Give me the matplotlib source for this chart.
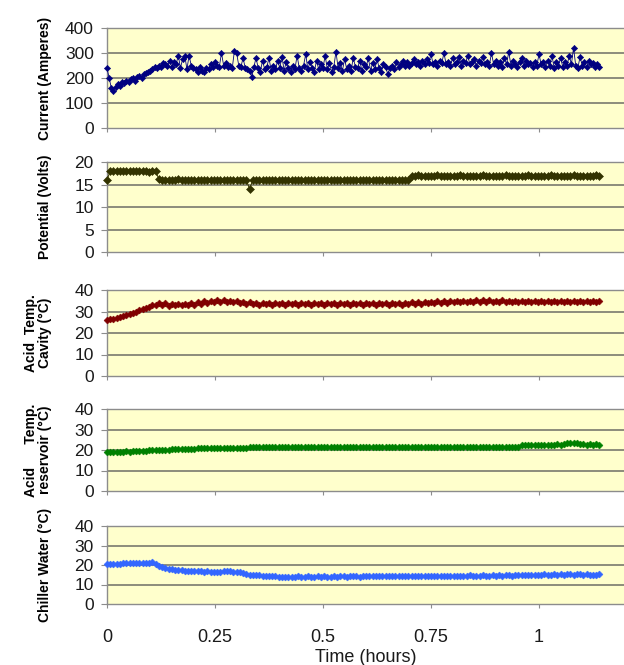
import numpy as np
import matplotlib
matplotlib.use("Agg")
import matplotlib.pyplot as plt

plt.rcParams['font.family'] = ['Liberation Sans', 'DejaVu Sans']

# ---------------- data ----------------
# logger sampling intervals (hours)
current_interval_h = 0.005
sample_interval_h = 0.0075

current_A = [
    240, 200, 160, 150, 165, 175, 170, 185, 180, 190,
    185, 195, 200, 190, 205, 210, 200, 215, 220, 225,
    230, 235, 245, 240, 250, 245, 260, 255, 250, 270,
    245, 265, 255, 290, 240, 275, 290, 235, 290, 250,
    240, 235, 225, 245, 230, 225, 240, 235, 255, 245,
    265, 250, 245, 300, 250, 260, 245, 250, 240, 310,
    300, 250, 245, 280, 240, 235, 230, 205, 245, 280,
    240, 225, 270, 235, 245, 280, 230, 250, 235, 270,
    240, 285, 230, 265, 240, 225, 250, 235, 290, 240,
    230, 250, 295, 235, 265, 240, 225, 270, 235, 255,
    240, 290, 235, 260, 225, 245, 305, 240, 260, 230,
    275, 235, 250, 230, 280, 245, 240, 270, 230, 255,
    245, 280, 230, 260, 235, 275, 240, 225, 255, 245,
    215, 240, 250, 235, 265, 245, 255, 270, 250, 265,
    250, 260, 275, 255, 265, 250, 270, 255, 275, 260,
    295, 255, 265, 250, 270, 260, 300, 255, 265, 250,
    280, 255, 265, 285, 250, 270, 260, 290, 255, 265,
    275, 250, 270, 260, 285, 255, 265, 250, 300, 255,
    270, 250, 265, 245, 280, 255, 305, 250, 270, 255,
    245, 265, 280, 250, 270, 255, 260, 245, 265, 250,
    295, 255, 265, 245, 270, 250, 290, 240, 265, 250,
    280, 245, 265, 250, 290, 255, 320, 250, 240, 285,
    250, 265, 245, 270, 255, 260, 245, 255, 245,
]

potential_V = [
    16.0, 18.0, 18.1, 18.0, 17.9, 18.0, 18.0, 18.1, 18.0, 17.9,
    18.0, 18.1, 17.9, 17.8, 17.9, 18.0, 16.2, 15.9, 16.0, 16.1,
    15.9, 16.0, 16.2, 16.0, 16.0, 15.9, 16.0, 16.1, 16.0, 15.9,
    16.0, 16.0, 16.1, 16.0, 15.9, 16.0, 16.0, 16.1, 16.0, 15.9,
    16.0, 16.0, 16.1, 16.0, 14.0, 16.0, 16.0, 16.1, 16.0, 15.9,
    16.0, 16.0, 16.0, 16.1, 16.0, 16.0, 15.9, 16.0, 16.0, 16.1,
    16.0, 16.0, 16.0, 15.9, 16.0, 16.0, 16.1, 16.0, 16.0, 16.0,
    15.9, 16.0, 16.0, 16.1, 16.0, 16.0, 16.0, 15.9, 16.0, 16.0,
    16.1, 16.0, 16.0, 16.0, 15.9, 16.0, 16.0, 16.1, 16.0, 16.0,
    16.0, 15.9, 16.0, 16.0, 17.0, 17.0, 17.1, 17.0, 17.0, 16.9,
    17.0, 17.0, 17.1, 17.0, 17.0, 17.0, 16.9, 17.0, 17.0, 17.1,
    17.0, 17.0, 17.0, 16.9, 17.0, 17.0, 17.1, 17.0, 17.0, 17.0,
    16.9, 17.0, 17.0, 17.1, 17.0, 17.0, 17.0, 16.9, 17.0, 17.0,
    17.1, 17.0, 17.0, 17.0, 16.9, 17.0, 17.0, 17.1, 17.0, 17.0,
    17.0, 16.9, 17.0, 17.0, 17.1, 17.0, 17.0, 16.9, 17.0, 17.0,
    17.0, 17.1, 17.0,
]

acid_cavity_C = [
    26.0, 26.5, 26.3, 27.0, 27.5, 28.0, 28.3, 29.0, 29.5, 30.0,
    30.5, 31.0, 31.5, 32.2, 32.8, 33.0, 33.8, 32.8, 33.8, 32.7,
    33.6, 32.8, 33.7, 32.9, 33.6, 33.0, 33.8, 33.2, 34.2, 33.5,
    34.8, 34.0, 35.0, 34.2, 35.5, 34.5, 35.2, 34.3, 35.0, 34.2,
    34.8, 34.0, 34.5, 33.5, 34.2, 33.3, 34.0, 33.2, 34.0, 33.3,
    34.1, 33.2, 34.0, 33.3, 34.0, 33.2, 34.1, 33.3, 34.0, 33.2,
    34.0, 33.3, 34.1, 33.2, 34.0, 33.3, 34.0, 33.2, 34.1, 33.3,
    34.0, 33.2, 34.0, 33.3, 34.1, 33.2, 34.0, 33.3, 34.0, 33.2,
    34.1, 33.3, 34.0, 33.2, 34.0, 33.3, 34.1, 33.2, 34.0, 33.3,
    34.0, 33.2, 34.1, 33.4, 34.2, 33.5, 34.3, 33.6, 34.5, 33.8,
    34.6, 33.9, 34.8, 34.0, 34.9, 34.1, 35.0, 34.2, 35.1, 34.3,
    35.0, 34.2, 35.1, 34.3, 35.2, 34.4, 35.3, 34.5, 35.2, 34.4,
    35.1, 34.3, 35.2, 34.4, 35.1, 34.3, 35.0, 34.2, 35.1, 34.3,
    35.0, 34.2, 35.1, 34.3, 35.0, 34.2, 35.1, 34.3, 35.0, 34.2,
    35.1, 34.3, 35.0, 34.2, 35.1, 34.3, 35.0, 34.2, 35.1, 34.3,
    35.0, 34.4, 35.0,
]

acid_reservoir_C = [
    19.0, 18.8, 19.1, 19.0, 19.2, 19.1, 19.3, 19.2, 19.4, 19.5,
    19.5, 19.6, 19.7, 19.8, 19.8, 19.9, 20.0, 20.1, 20.1, 20.2,
    20.3, 20.4, 20.4, 20.5, 20.6, 20.6, 20.7, 20.7, 20.8, 20.8,
    20.9, 20.9, 20.9, 21.0, 21.0, 21.0, 21.0, 21.1, 21.0, 21.0,
    21.1, 21.0, 21.1, 21.0, 21.5, 21.4, 21.6, 21.5, 21.4, 21.5,
    21.4, 21.5, 21.4, 21.5, 21.4, 21.3, 21.4, 21.3, 21.4, 21.3,
    21.4, 21.3, 21.4, 21.3, 21.4, 21.3, 21.4, 21.4, 21.3, 21.4,
    21.3, 21.4, 21.5, 21.4, 21.5, 21.4, 21.5, 21.4, 21.5, 21.4,
    21.5, 21.4, 21.5, 21.5, 21.4, 21.5, 21.5, 21.4, 21.5, 21.5,
    21.6, 21.5, 21.5, 21.6, 21.5, 21.5, 21.6, 21.5, 21.6, 21.5,
    21.6, 21.5, 21.6, 21.5, 21.6, 21.5, 21.6, 21.5, 21.6, 21.5,
    21.6, 21.5, 21.6, 21.5, 21.6, 21.5, 21.6, 21.5, 21.6, 21.5,
    21.6, 21.5, 21.6, 21.5, 21.6, 21.5, 21.6, 21.6, 22.5, 22.6,
    22.5, 22.6, 22.5, 22.6, 22.5, 22.6, 22.5, 22.6, 22.5, 22.7,
    22.6, 22.8, 23.2, 23.4, 23.5, 23.3, 22.9, 22.7, 22.6, 22.7,
    22.6, 22.7, 22.6,
]

chiller_water_C = [
    20.5, 20.4, 20.6, 20.5, 20.7, 20.8, 20.9, 21.0, 20.9, 21.0,
    21.0, 21.1, 21.0, 21.2, 21.6, 20.6, 19.6, 19.0, 18.6, 18.2,
    17.9, 17.6, 17.4, 17.3, 17.1, 17.0, 16.9, 16.9, 16.8, 16.7,
    16.6, 16.7, 16.5, 16.4, 16.3, 16.6, 16.9, 17.0, 16.8, 16.6,
    16.5, 16.2, 15.8, 15.4, 15.1, 15.0, 14.8, 14.7, 14.6, 14.5,
    14.4, 14.3, 14.2, 14.1, 14.0, 14.1, 14.0, 14.1, 14.0, 14.2,
    14.1, 14.0, 14.2, 14.1, 14.0, 14.2, 14.1, 14.2, 14.0, 14.1,
    14.2, 14.1, 14.3, 14.2, 14.1, 14.2, 14.3, 14.2, 14.1, 14.3,
    14.2, 14.3, 14.2, 14.4, 14.3, 14.2, 14.3, 14.4, 14.3, 14.2,
    14.4, 14.3, 14.5, 14.4, 14.3, 14.4, 14.5, 14.3, 14.4, 14.5,
    14.4, 14.5, 14.3, 14.4, 14.6, 14.5, 14.4, 14.5, 14.6, 14.5,
    14.6, 14.5, 14.7, 14.6, 14.5, 14.6, 14.7, 14.6, 14.5, 14.7,
    14.6, 14.7, 14.6, 14.8, 14.7, 14.6, 14.7, 14.8, 14.7, 14.9,
    15.1, 15.0, 15.1, 15.0, 15.1, 15.2, 15.0, 15.1, 15.2, 15.1,
    15.2, 15.1, 15.3, 15.2, 15.1, 15.2, 15.3, 15.1, 15.2, 15.1,
    15.0, 15.1, 15.2,
]

current_time_h = np.arange(len(current_A)) * current_interval_h
time_h = np.arange(len(potential_V)) * sample_interval_h

x_ticks = [0, 0.25, 0.5, 0.75, 1]
x_tick_labels = ["0", "0.25", "0.5", "0.75", "1"]
x_label = "Time (hours)"

panels = [
    dict(x=current_time_h, y=current_A, label="Current (Amperes)", color="#000080",
         yticks=[0, 100, 200, 300, 400], ms=3.2, lw=0.6),
    dict(x=time_h, y=potential_V, label="Potential (Volts)", color="#333300",
         yticks=[0, 5, 10, 15, 20], ms=3.6, lw=0.7),
    dict(x=time_h, y=acid_cavity_C, label="Acid  Temp.\nCavity (°C)", color="#800000",
         yticks=[0, 10, 20, 30, 40], ms=3.5, lw=0.7),
    dict(x=time_h, y=acid_reservoir_C, label="Acid      Temp.\nreservoir (°C)", color="#008000",
         yticks=[0, 10, 20, 30, 40], ms=3.5, lw=0.7),
    dict(x=time_h, y=chiller_water_C, label="Chiller Water (°C)", color="#3366FF",
         yticks=[0, 10, 20, 30, 40], ms=3.5, lw=0.7),
]

# ---------------- layout ----------------
W, H = 624, 665
fig = plt.figure(figsize=(W / 100, H / 100), dpi=100)
fig.patch.set_facecolor("white")

# (top, bottom) of each plot area in pixels
boxes = [(28, 128), (162, 252), (290, 376), (409, 491), (526, 604)]
left_px = 107
x_max = (W - left_px) / 432.0

for i, (p, (top, bot)) in enumerate(zip(panels, boxes)):
    ax = fig.add_axes([left_px / W, 1 - bot / H, 1 - left_px / W, (bot - top) / H])
    ax.set_facecolor("#FFFFCC")
    ax.plot(p["x"], p["y"], color=p["color"], lw=p["lw"], marker="D",
            markersize=p["ms"], markeredgewidth=0.4, markeredgecolor=p["color"],
            zorder=3, clip_on=False)
    ax.set_xlim(0, x_max)
    ax.set_ylim(p["yticks"][0], p["yticks"][-1])
    ax.set_yticks(p["yticks"])
    ax.set_xticks(x_ticks)
    ax.grid(axis="y", color="#6e6e66", lw=1.1, zorder=1)
    gls = ax.get_ygridlines()
    gls[0].set_visible(False)
    gls[-1].set_visible(False)
    for s in ["left", "bottom", "top"]:
        ax.spines[s].set_color("#8c8c8c")
        ax.spines[s].set_linewidth(1.0)
    ax.spines["right"].set_visible(False)
    ax.tick_params(axis="y", direction="out", length=4, width=0.8,
                   color="#8c8c8c", pad=5.5, labelsize=12.5, labelcolor="#1a1a1a")
    ax.tick_params(axis="x", direction="out", length=3, width=0.8,
                   color="#8c8c8c", pad=15, labelsize=13, labelcolor="#1a1a1a")
    if i < len(panels) - 1:
        ax.set_xticklabels([])
    else:
        ax.set_xticklabels(x_tick_labels)
        ax.set_xlabel(x_label, fontsize=13, color="#1a1a1a", labelpad=2)
    ax.set_ylabel(p["label"], fontsize=10, fontweight="bold", linespacing=1.0)
    ax.yaxis.set_label_coords((52 - left_px) / (W - left_px), 0.5)

fig.savefig("out.png", dpi=100)
